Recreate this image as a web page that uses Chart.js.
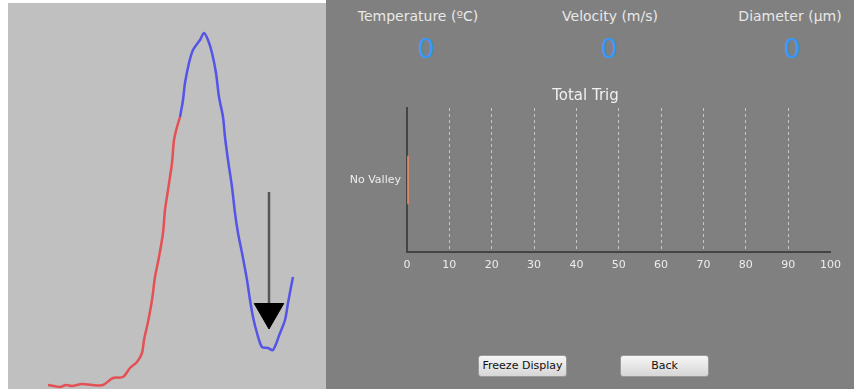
<!DOCTYPE html>
<html>
<head>
<meta charset="utf-8">
<script src="https://cdn.jsdelivr.net/npm/chart.js@4"></script>
<style>
  html, body { margin: 0; padding: 0; background: #fff; }
  body { width: 854px; height: 389px; position: relative; overflow: hidden; font-family: "DejaVu Sans", sans-serif; }
  #left { position: absolute; left: 8px; top: 3px; width: 318px; height: 386px; background: #c0c0c0; }
  #right { position: absolute; left: 326px; top: 0; width: 528px; height: 389px; background: #808080; }
  .lbl { position: absolute; top: 8px; color: #e8e8e8; font-size: 14px; transform: translateX(-50%); white-space: nowrap; }
  .val { position: absolute; top: 33px; color: #3399ff; font-size: 27px; transform: translateX(-50%); }
  .btn { position: absolute; top: 355px; width: 89px; height: 22px; box-sizing: border-box;
         border: 1px solid #9a9a9a; border-radius: 3px; background: linear-gradient(#f6f6f6, #d6d6d6);
         font-size: 11px; color: #111; text-align: center; line-height: 20px; }
  #trigWrap { position: absolute; left: -3px; top: 85px; width: 525px; height: 195px; }
</style>
</head>
<body>
<div id="left"><canvas id="signal"></canvas></div>
<div id="right">
  <div class="lbl" style="left:92px">Temperature (ºC)</div>
  <div class="lbl" style="left:284px">Velocity (m/s)</div>
  <div class="lbl" style="left:464px">Diameter (µm)</div>
  <div class="val" style="left:100px">0</div>
  <div class="val" style="left:283px">0</div>
  <div class="val" style="left:466px">0</div>
  <div id="trigWrap"><canvas id="trig"></canvas></div>
  <div class="btn" style="left:152px">Freeze Display</div>
  <div class="btn" style="left:294px">Back</div>
</div>
<script>
// signal trace (sample index vs amplitude), rising edge and falling part
const riseTime = [0, 6, 12, 18, 24, 34, 44, 55, 65, 75, 82, 89, 94, 96, 100, 104, 107, 111, 115, 117, 120, 124, 126, 129, 132];
const riseAmp  = [1, 0, -1, 1, 0, 2, 1, 1, 8, 9, 18, 24, 33, 46, 64, 86, 109, 129, 153, 176, 196, 223, 246, 259, 269];
const fallTime = [132, 135, 137, 141, 145, 152, 156, 160, 164, 168, 171, 175, 177, 180, 184, 187, 190, 194, 199, 202, 205, 209, 214, 220, 225, 232, 237, 240, 243, 245];
const fallAmp  = [269, 286, 303, 323, 336, 346, 353, 346, 333, 313, 289, 269, 249, 226, 199, 173, 153, 133, 106, 86, 69, 53, 39, 38, 36, 53, 66, 83, 99, 109];
// valley marker
const markerTime = 221;
const markerAmp = [194, 74];

// Total Trig bar chart
const trigCategories = ["No Valley"];
const trigValues = [0.4];
const trigTicks = [0, 10, 20, 30, 40, 50, 60, 70, 80, 90, 100];

const pts = (xs, ys) => xs.map((x, i) => ({ x: x, y: ys[i] }));

new Chart(document.getElementById("signal"), {
  type: "line",
  data: {
    datasets: [
      { data: pts(riseTime, riseAmp), borderColor: "rgb(228,80,84)", borderWidth: 2.5, pointRadius: 0, tension: 0.3 },
      { data: pts(fallTime, fallAmp), borderColor: "rgb(84,84,232)", borderWidth: 2.5, pointRadius: 0, tension: 0.3 },
      {
        data: markerAmp.map((a) => ({ x: markerTime, y: a })),
        borderColor: "#555", borderWidth: 2.5,
        pointRadius: [0, 17], pointStyle: "triangle", rotation: 180,
        pointBackgroundColor: "#000", pointBorderColor: "#000", pointBorderWidth: 1,
      },
    ],
  },
  options: {
    responsive: true, maintainAspectRatio: false, animation: false,
    layout: { padding: 0, autoPadding: false },
    plugins: { legend: { display: false }, tooltip: { enabled: false } },
    scales: {
      x: { type: "linear", display: false, min: -40, max: 278 },
      y: { type: "linear", display: false, min: -3, max: 383 },
    },
  },
});

new Chart(document.getElementById("trig"), {
  type: "bar",
  data: {
    labels: trigCategories,
    datasets: [{ data: trigValues, backgroundColor: "rgb(218,138,104)", barThickness: 48 }],
  },
  options: {
    indexAxis: "y",
    responsive: true, maintainAspectRatio: false, animation: false,
    plugins: {
      legend: { display: false }, tooltip: { enabled: false },
      title: {
        display: true, text: "Total Trig", color: "#f0f0f0",
        font: { family: "DejaVu Sans", size: 15, weight: "normal" },
        padding: { top: 2, bottom: 3 },
      },
    },
    scales: {
      x: {
        min: 0, max: 100,
        afterBuildTicks: (s) => { s.ticks = trigTicks.map((v) => ({ value: v })); },
        afterFit: (s) => { s.height = 28; },
        ticks: { color: "#ececec", font: { family: "DejaVu Sans", size: 11 }, padding: 7 },
        grid: {
          drawTicks: false,
          color: (c) => (c.tick && (c.tick.value === 0 || c.tick.value === 100) ? "rgba(0,0,0,0)" : "rgba(215,215,215,0.8)"),
          lineWidth: 1,
        },
        border: { display: true, color: "#444", width: 2, dash: [3, 3] },
      },
      y: {
        afterFit: (s) => { s.width = 84; },
        ticks: { color: "#ececec", font: { family: "DejaVu Sans", size: 11 }, padding: 6 },
        grid: { display: false, drawTicks: false },
        border: { display: true, color: "#444", width: 2 },
      },
    },
  },
});
</script>
</body>
</html>
